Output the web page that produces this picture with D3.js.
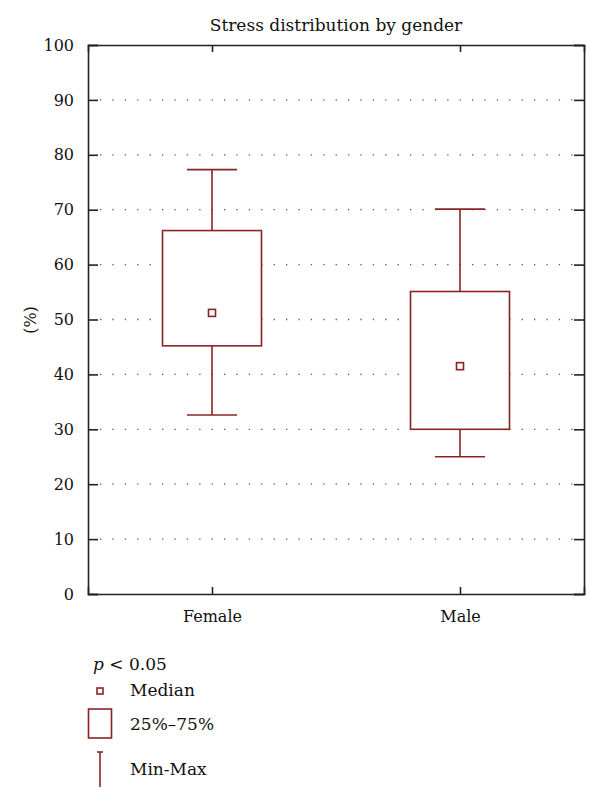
<!DOCTYPE html>
<html><head><meta charset="utf-8">
<script src="https://cdn.jsdelivr.net/npm/d3@7"></script>
<style>body{margin:0;background:#fff}svg text{font-family:"DejaVu Serif",serif;fill:#111}</style>
</head><body><svg id="c" width="600" height="801"></svg>
<script>
const categories = ["Female", "Male"];
const minVals = [32.6, 25.0];
const q1Vals = [45.2, 30.0];
const medianVals = [51.2, 41.5];
const q3Vals = [66.2, 55.1];
const maxVals = [77.3, 70.1];
const yTicks = [0,10,20,30,40,50,60,70,80,90,100];
const title = "Stress distribution by gender";
const yLabel = "(%)";

const col = "#8b2326";
const FS = 16;
const svg = d3.select("#c");
const L=88, R=584, T=45, B=594;
const x = d3.scalePoint().domain(categories).range([L,R]).padding(0.5);
const y = d3.scaleLinear().domain([0,100]).range([B,T]);

const data = categories.map((c,i)=>({c,min:minVals[i],q1:q1Vals[i],med:medianVals[i],q3:q3Vals[i],max:maxVals[i]}));

// grid
svg.append("g").selectAll("line").data(yTicks.filter(d=>d>0&&d<100)).join("line")
  .attr("x1",L+12).attr("x2",R-4).attr("y1",d=>y(d)).attr("y2",d=>y(d))
  .attr("stroke","#555").attr("stroke-width",1.3).attr("stroke-dasharray","1.3 11.1");

// axes
const yAxisL = d3.axisLeft(y).tickValues(yTicks).tickSize(-10).tickPadding(14);
const gL = svg.append("g").attr("transform",`translate(${L},0)`).call(yAxisL);
const yAxisR = d3.axisRight(y).tickValues(yTicks).tickSize(-10).tickFormat("");
const gR = svg.append("g").attr("transform",`translate(${R},0)`).call(yAxisR);
const xAxisB = d3.axisBottom(x).tickSize(-7).tickPadding(17);
const gB = svg.append("g").attr("transform",`translate(0,${B})`).call(xAxisB);
const xAxisT = d3.axisTop(x).tickSize(-7).tickFormat("");
const gT = svg.append("g").attr("transform",`translate(0,${T})`).call(xAxisT);
[gL,gR,gB,gT].forEach(g=>{
  g.select(".domain").attr("stroke","#222").attr("stroke-width",1.6);
  g.selectAll(".tick line").attr("stroke","#222").attr("stroke-width",1.6);
  g.selectAll(".tick text").attr("font-size",FS).attr("fill","#111").attr("font-family","DejaVu Serif");
});

// boxes
const bw = 99, cw = 50, ms = 7;
const g = svg.append("g").selectAll("g").data(data).join("g");
g.append("line").attr("x1",d=>x(d.c)).attr("x2",d=>x(d.c)).attr("y1",d=>y(d.max)).attr("y2",d=>y(d.min))
  .attr("stroke",col).attr("stroke-width",1.6);
g.append("line").attr("x1",d=>x(d.c)-cw/2).attr("x2",d=>x(d.c)+cw/2).attr("y1",d=>y(d.max)).attr("y2",d=>y(d.max))
  .attr("stroke",col).attr("stroke-width",1.6);
g.append("line").attr("x1",d=>x(d.c)-cw/2).attr("x2",d=>x(d.c)+cw/2).attr("y1",d=>y(d.min)).attr("y2",d=>y(d.min))
  .attr("stroke",col).attr("stroke-width",1.6);
g.append("rect").attr("x",d=>x(d.c)-bw/2).attr("width",bw).attr("y",d=>y(d.q3)).attr("height",d=>y(d.q1)-y(d.q3))
  .attr("fill","#fff").attr("stroke",col).attr("stroke-width",1.6);
g.append("rect").attr("x",d=>x(d.c)-ms/2).attr("width",ms).attr("y",d=>y(d.med)-ms/2).attr("height",ms)
  .attr("fill","#fff").attr("stroke",col).attr("stroke-width",1.6);

// title & label
svg.append("text").attr("x",(L+R)/2).attr("y",31).attr("text-anchor","middle").attr("font-size",17).text(title);
svg.append("text").attr("transform","translate(36,320) rotate(-90)").attr("text-anchor","middle").attr("font-size",FS).text(yLabel);

// legend
const LF = 17;
const lg = svg.append("g");
const pt = lg.append("text").attr("x",93).attr("y",670).attr("font-size",LF);
pt.append("tspan").attr("font-style","italic").text("p");
pt.append("tspan").text(" < 0.05");
lg.append("rect").attr("x",97).attr("y",688).attr("width",6).attr("height",6).attr("fill","#fff").attr("stroke",col).attr("stroke-width",1.6);
lg.append("text").attr("x",130).attr("y",696).attr("font-size",LF).text("Median");
lg.append("rect").attr("x",88.5).attr("y",709).attr("width",23).attr("height",29).attr("fill","#fff").attr("stroke",col).attr("stroke-width",1.6);
lg.append("text").attr("x",130).attr("y",730).attr("font-size",LF).text("25%–75%");
lg.append("line").attr("x1",100).attr("x2",100).attr("y1",752).attr("y2",787).attr("stroke",col).attr("stroke-width",1.6);
lg.append("line").attr("x1",97).attr("x2",103).attr("y1",752).attr("y2",752).attr("stroke",col).attr("stroke-width",1.6);
lg.append("text").attr("x",130).attr("y",775).attr("font-size",LF).text("Min-Max");
</script></body></html>
